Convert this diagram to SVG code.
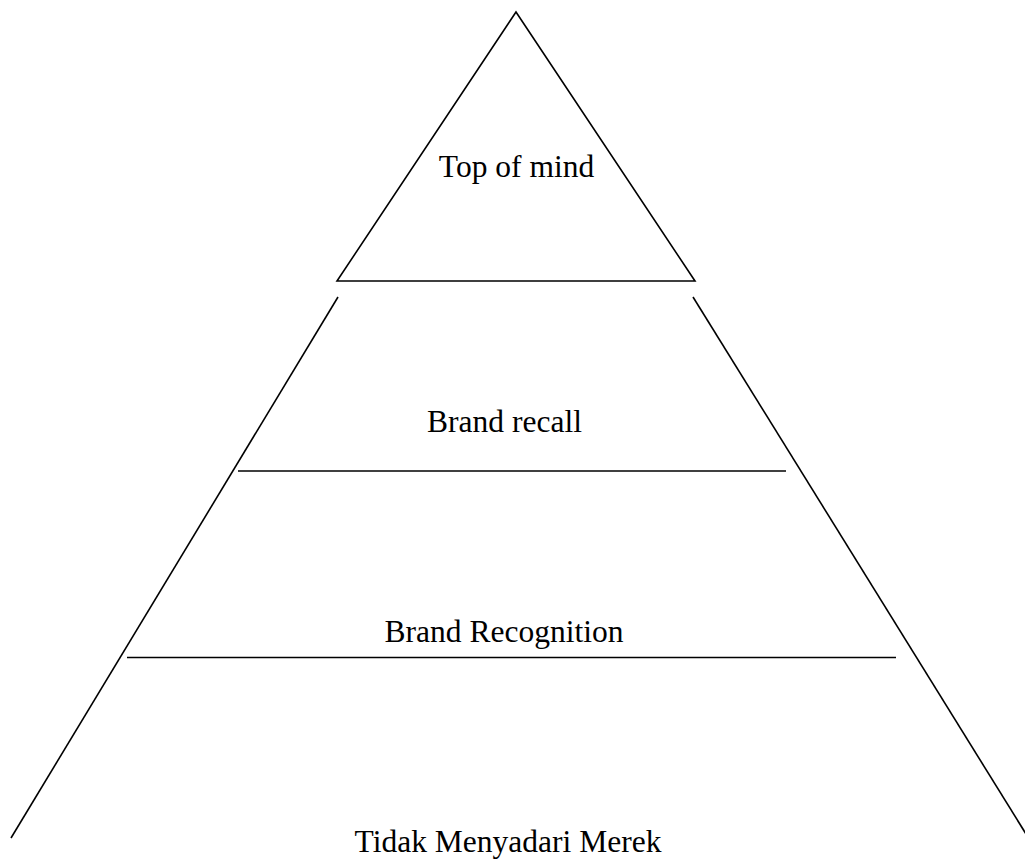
<svg xmlns="http://www.w3.org/2000/svg" width="1025" height="863" viewBox="0 0 1025 863">
<style>
.ln{stroke:#000;stroke-width:1.6;fill:none}
.t{font-family:"Liberation Serif","Times New Roman",serif;font-size:31.5px;fill:#000;text-anchor:middle}
</style>
<rect width="1025" height="863" fill="#fff"/>
<g id="connectors">
<polygon class="ln" points="516,12 337,281 695,281"/>
<line class="ln" x1="338" y1="297" x2="11" y2="838"/>
<line class="ln" x1="693" y1="297" x2="1026" y2="834"/>
<line class="ln" x1="238" y1="471" x2="786" y2="471"/>
<line class="ln" x1="127" y1="657.5" x2="896" y2="657.5"/>
</g>
<g id="top"><text class="t" x="516.5" y="177">Top of mind</text></g>
<g id="recall"><text class="t" x="504.5" y="432">Brand recall</text></g>
<g id="recognition"><text class="t" x="504" y="642">Brand Recognition</text></g>
<g id="unaware"><text class="t" x="508" y="852">Tidak Menyadari Merek</text></g>
</svg>
